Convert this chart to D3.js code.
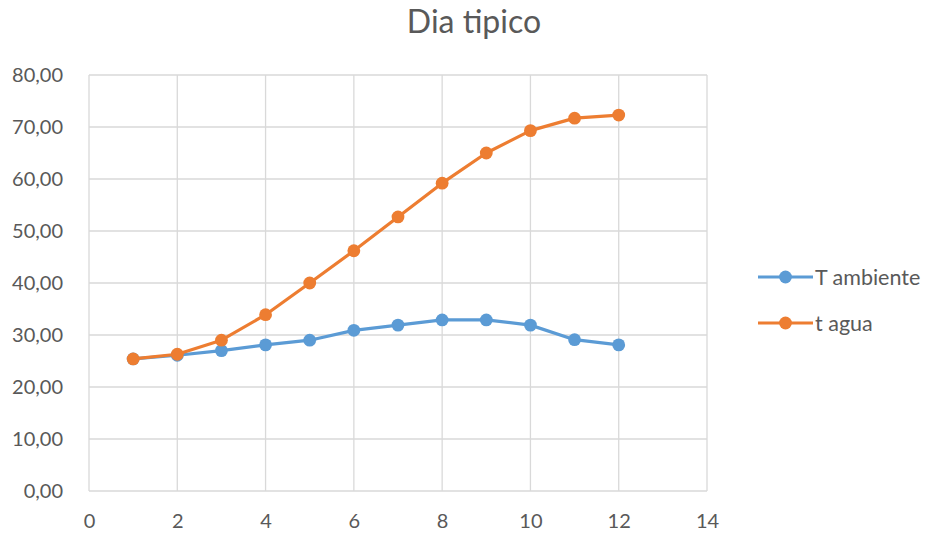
<!DOCTYPE html>
<html>
<head>
<meta charset="utf-8">
<script src="https://cdn.jsdelivr.net/npm/d3@7"></script>
<style>
  html, body { margin: 0; padding: 0; background: #fff; }
  svg { display: block; font-family: Lato, "Open Sans", sans-serif; }
</style>
</head>
<body>
<svg id="chart" width="930" height="536"></svg>
<script>
// Hour index and the two temperature series
const hours = [1, 2, 3, 4, 5, 6, 7, 8, 9, 10, 11, 12];
const tAmbiente = [25.4, 26.1, 27.0, 28.1, 29.0, 30.9, 31.9, 32.9, 32.9, 31.9, 29.1, 28.1];
const tAgua = [25.4, 26.3, 29.0, 33.9, 40.0, 46.2, 52.7, 59.2, 65.0, 69.3, 71.7, 72.3];
const xTicks = [0, 2, 4, 6, 8, 10, 12, 14];
const yTicks = [0, 10, 20, 30, 40, 50, 60, 70, 80];
const seriesNames = ["T ambiente", "t agua"];
const colors = ["#5B9BD5", "#ED7D31"];

const svg = d3.select("#chart");
const plot = { left: 89, right: 707, top: 75, bottom: 491 };

const x = d3.scaleLinear().domain([0, 14]).range([plot.left, plot.right]);
const y = d3.scaleLinear().domain([0, 80]).range([plot.bottom, plot.top]);

const fmt = v => d3.format(".2f")(v).replace(".", ",");
const labelSize = 20;

// Title
svg.append("text")
  .attr("x", 474).attr("y", 33)
  .attr("text-anchor", "middle")
  .attr("font-size", 32)
  .attr("fill", "#595959")
  .text("Dia tipico");

// Gridlines
const grid = svg.append("g").attr("stroke", "#D9D9D9").attr("stroke-width", 1.3);
grid.selectAll(".h").data(yTicks).join("line")
  .attr("x1", plot.left).attr("x2", plot.right)
  .attr("y1", d => y(d)).attr("y2", d => y(d));
grid.selectAll(".v").data(xTicks).join("line")
  .attr("y1", plot.top).attr("y2", plot.bottom)
  .attr("x1", d => x(d)).attr("x2", d => x(d));

// Axes (labels only, lines drawn by grid)
const yAxis = svg.append("g")
  .attr("transform", `translate(${plot.left},0)`)
  .call(d3.axisLeft(y).tickValues(yTicks).tickFormat(fmt).tickSize(0).tickPadding(26));
const xAxis = svg.append("g")
  .attr("transform", `translate(0,${plot.bottom})`)
  .call(d3.axisBottom(x).tickValues(xTicks).tickSize(0).tickPadding(23));
[yAxis, xAxis].forEach(a => {
  a.select(".domain").remove();
  a.selectAll("text")
    .attr("font-family", "Lato, 'Open Sans', sans-serif")
    .attr("font-size", labelSize)
    .attr("fill", "#595959");
});

// Series
const seriesData = [tAmbiente, tAgua];
const line = d3.line().x((d, i) => x(hours[i])).y(d => y(d));
seriesData.forEach((vals, si) => {
  const g = svg.append("g");
  g.append("path")
    .datum(vals)
    .attr("fill", "none")
    .attr("stroke", colors[si])
    .attr("stroke-width", 3.2)
    .attr("stroke-linejoin", "round")
    .attr("d", line);
  g.selectAll("circle").data(vals).join("circle")
    .attr("cx", (d, i) => x(hours[i]))
    .attr("cy", d => y(d))
    .attr("r", 6.4)
    .attr("fill", colors[si]);
});

// Legend
const legend = svg.append("g");
seriesNames.forEach((name, i) => {
  const ly = 277 + i * 46;
  legend.append("line")
    .attr("x1", 758).attr("x2", 813)
    .attr("y1", ly).attr("y2", ly)
    .attr("stroke", colors[i]).attr("stroke-width", 3.2);
  legend.append("circle")
    .attr("cx", 785.5).attr("cy", ly).attr("r", 6.4)
    .attr("fill", colors[i]);
  legend.append("text")
    .attr("x", 815).attr("y", ly)
    .attr("dy", "0.35em")
    .attr("font-size", 21.5)
    .attr("fill", "#595959")
    .text(name);
});
</script>
</body>
</html>
